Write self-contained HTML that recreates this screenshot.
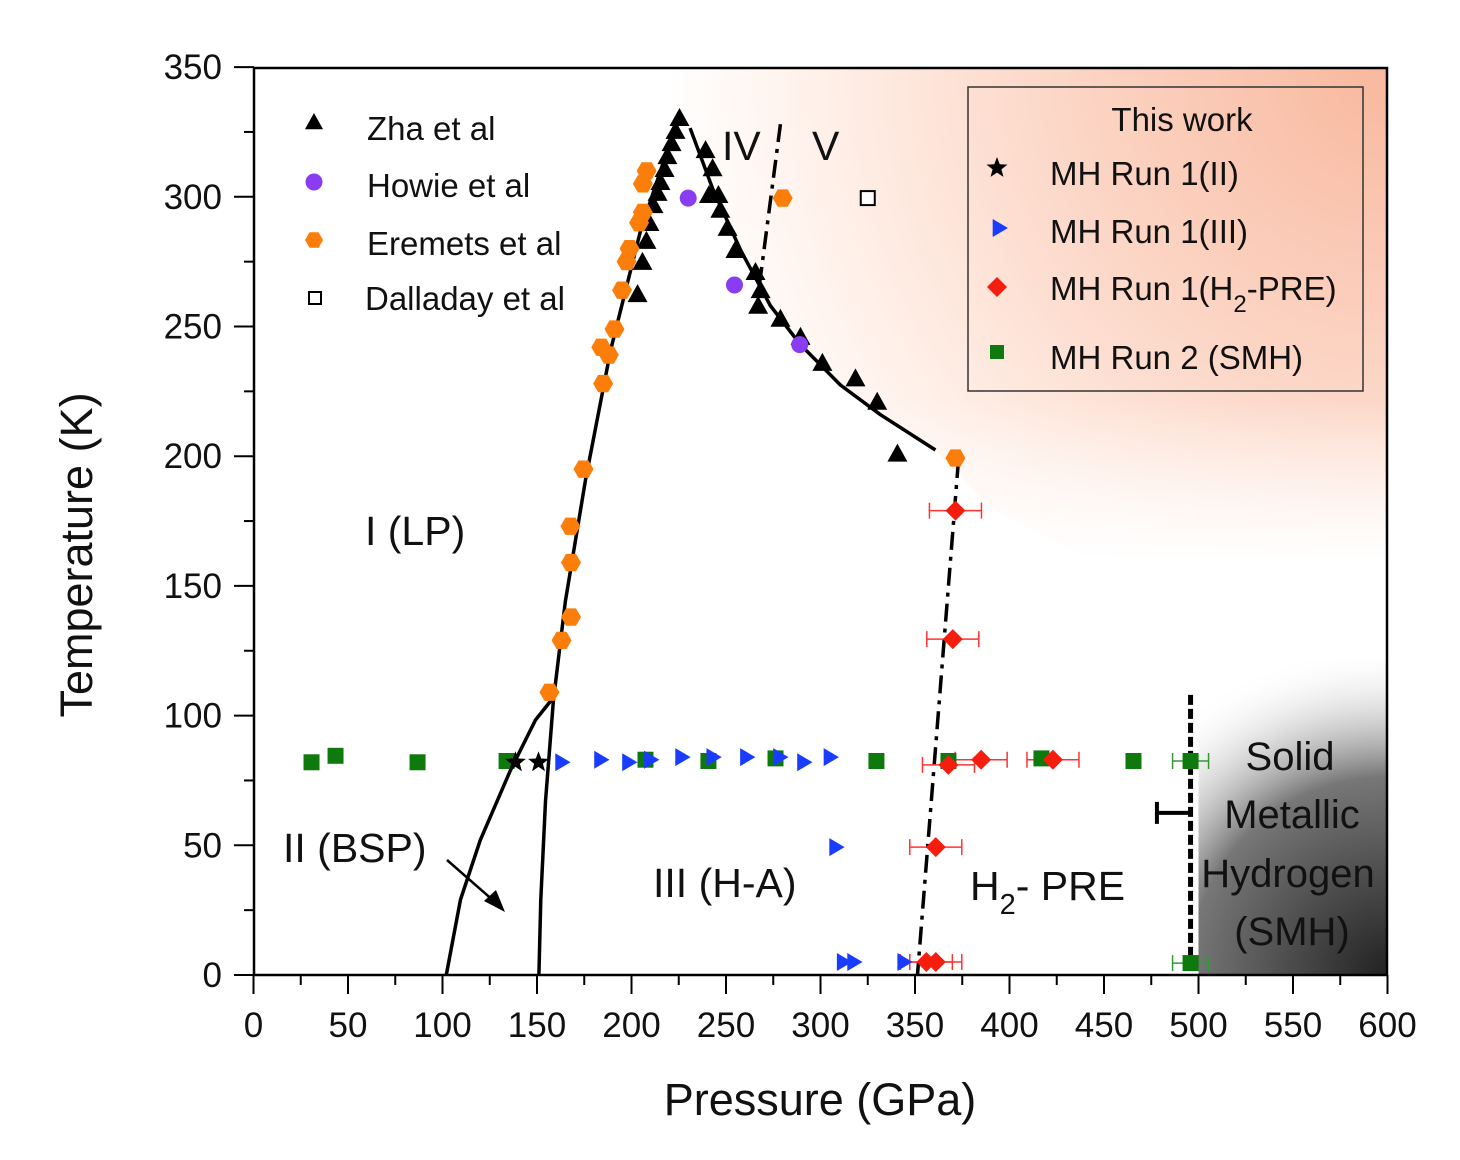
<!DOCTYPE html>
<html><head><meta charset="utf-8"><style>
body{margin:0;background:#fff;}
svg{display:block;font-family:"Liberation Sans",Arial,sans-serif;}
</style></head><body>
<svg id="chart" width="1460" height="1160" viewBox="0 0 1460 1160">
<defs>
<radialGradient id="orange" cx="1387" cy="67" r="720" gradientUnits="userSpaceOnUse">
<stop offset="0" stop-color="#f8b89e"/><stop offset="0.45" stop-color="#fcd6c6"/><stop offset="0.8" stop-color="#fff1ea"/><stop offset="1" stop-color="#ffffff"/>
</radialGradient>
<linearGradient id="fade" x1="0" y1="400" x2="0" y2="560" gradientUnits="userSpaceOnUse">
<stop offset="0" stop-color="#fff" stop-opacity="0"/><stop offset="1" stop-color="#fff" stop-opacity="1"/>
</linearGradient>
<radialGradient id="gray" cx="1387" cy="975" r="330" gradientUnits="userSpaceOnUse">
<stop offset="0" stop-color="#222"/><stop offset="0.6" stop-color="#777"/><stop offset="1" stop-color="#fff" stop-opacity="0"/>
</radialGradient>
<clipPath id="plotclip"><rect x="254" y="68" width="1133" height="907"/></clipPath>
</defs>
<g id="bg" clip-path="url(#plotclip)"></g>
<g id="curves"></g>
<g id="marks"></g>
<g id="axes"></g>
<g id="labels"></g>
</svg>
<script>
const NS='http://www.w3.org/2000/svg';
const xTicks=[0,50,100,150,200,250,300,350,400,450,500,550,600];
const yTicks=[0,50,100,150,200,250,300,350];
const zhaP=[225.4,223.3,221.2,219,217.5,215.3,213.8,211.6,209.5,207.9,205.8,203.2,239.2,242.9,241,246,247,250.8,255,265.6,268.3,267,278.8,289.4,301,318.5,330,340.7];
const zhaT=[330.4,325.4,320.7,315.7,310.7,305.7,301.5,296.8,289.9,283,274.9,262.5,318,311,300.7,300.7,295,288,279.5,271,264,258,253,246,236,230,221,201];
const howieP=[230,254.5,289];
const howieT=[299.5,266,243];
const eremP=[208,206,206,204,199,197.4,195,191,184,188,185,174.6,167.7,168,168,163,156.6,280,371.4];
const eremT=[310,305,294,290,280,275,264,249,242,239,228,195,173,159,138,129,109,299.5,199.3];
const dallP=[325];const dallT=[299.5];
const run1IIP=[138.6,150.8];const run1IIT=[82,82];
const run1IIIP=[163,183.6,198.4,210,226.5,243,260.8,278.3,291,305,308,312,317.5,344];
const run1IIIT=[82,83,82,83,84,84,84,84,82,84,49.3,5,5,5];
const preP=[371.4,370,385,423,367.7,361,356,361];
const preT=[179,129.5,83,83,81,49.3,5,5];
const smhP=[30.7,43.4,86.8,133.9,207.4,240.7,276.2,329.6,367.7,416.9,465.6,495.8,495.8];
const smhT=[82,84.5,82,82.5,83,82.5,83.5,82.5,82.5,83.5,82.5,82.5,4.6];
const leftCurveP=[151,152,154.5,158.7,165,175.7,189,204.8,225.4];
const leftCurveT=[0,29,67,106,144,191,241,287,332];
const rightCurveP=[231,243,257.7,273.5,289.4,310.6,331.7,360.8];
const rightCurveT=[326.5,303,279.5,258,243,227.4,216,202.4];
const bspP=[102,109.5,120,136,149.2,159.8];
const bspT=[0,29,52,79,98.3,108];
const ivvP=[278.8,267.5];const ivvT=[328,265];
const preLineP=[373,351.3];const preLineT=[198.5,0];

const X=p=>253.5+p*1.89, Y=t=>975-t*2.594;
function el(tag,attrs,parent){const e=document.createElementNS(NS,tag);for(const k in attrs)e.setAttribute(k,attrs[k]);parent.appendChild(e);return e;}
const bg=document.getElementById('bg'),curves=document.getElementById('curves'),marks=document.getElementById('marks'),axes=document.getElementById('axes'),labels=document.getElementById('labels');

let r=el('rect',{x:254,y:68,width:1133,height:600,fill:'url(#orange)'},bg);


let fd=el('rect',{x:254,y:400,width:1133,height:300,fill:'url(#fade)'},bg);


let pts=[];rightCurveP.forEach((p,i)=>pts.push([X(p),Y(rightCurveT[i])]));
let mask='M'+X(225.4)+','+Y(332)+' '+pts.map(q=>'L'+q[0]+','+q[1]).join(' ')+' L'+X(390)+','+Y(180)+' L'+X(600)+','+Y(100)+' L'+X(600)+','+Y(0)+' L'+X(0)+','+Y(0)+' L'+X(0)+','+Y(350)+' L'+X(200)+','+Y(350)+' Z';
let m=el('path',{d:mask,fill:'#fff'},bg);


let g=el('rect',{x:X(500),y:660,width:X(600)-X(500),height:315,fill:'url(#gray)'},bg);



function poly(P,T,name,dash,w){const d=P.map((p,i)=>(i?'L':'M')+X(p)+','+Y(T[i])).join(' ');const e=el('path',{d:d,fill:'none',stroke:'#000','stroke-width':w||3.5,'stroke-dasharray':dash||'none','stroke-linejoin':'round'},curves);

}
poly(leftCurveP,leftCurveT,'phase-i-iii-boundary');
poly(rightCurveP,rightCurveT,'phase-i-iv-boundary');
poly(bspP,bspT,'bsp-boundary');
poly(ivvP,ivvT,'iv-v-boundary','18,7,4,7');
poly(preLineP,preLineT,'h2-pre-boundary','18,7,4,7');
let smhl=el('line',{x1:X(495.8),y1:Y(108),x2:X(495.8),y2:975,stroke:'#000','stroke-width':5,'stroke-dasharray':'10,4'},curves);


let eb=el('path',{d:`M${X(478)},${Y(62.5)} L${X(495.8)},${Y(62.5)} M${X(478)},${Y(62.5)-11} L${X(478)},${Y(62.5)+11}`,stroke:'#000','stroke-width':4,fill:'none'},curves);


let ar=el('path',{d:'M447,860 L495,902',stroke:'#000','stroke-width':2.5,fill:'none'},curves);


let ah=el('path',{d:'M505,912 L484,901 L496,890 Z',fill:'#000'},curves);



function tri(x,y,s,c){return el('path',{d:`M${x},${y-s} L${x+s},${y+s*0.8} L${x-s},${y+s*0.8} Z`,fill:c},marks);}
function rtri(x,y,s,c){return el('path',{d:`M${x+s},${y} L${x-s*0.7},${y-s} L${x-s*0.7},${y+s} Z`,fill:c},marks);}
function hex(x,y,s,c){let d='';for(let k=0;k<6;k++){const a=Math.PI/3*k;d+=(k?'L':'M')+(x+s*Math.cos(a))+','+(y+s*Math.sin(a));}return el('path',{d:d+'Z',fill:c},marks);}
function diam(x,y,s,c){return el('path',{d:`M${x},${y-s} L${x+s},${y} L${x},${y+s} L${x-s},${y} Z`,fill:c},marks);}
function star(x,y,s,c){let d='';for(let k=0;k<10;k++){const a=-Math.PI/2+Math.PI/5*k;const rr=k%2?s*0.42:s;d+=(k?'L':'M')+(x+rr*Math.cos(a))+','+(y+rr*Math.sin(a));}return el('path',{d:d+'Z',fill:c},marks);}
function errbar(x,y,w,c){return el('path',{d:`M${x-w},${y} L${x+w},${y} M${x-w},${y-8} L${x-w},${y+8} M${x+w},${y-8} L${x+w},${y+8}`,stroke:c,'stroke-width':1.5,fill:'none'},marks);}

preP.forEach((p,i)=>{const e=errbar(X(p),Y(preT[i]),26,'#f33');

});
[11,12].forEach(i=>{const e=errbar(X(smhP[i]),Y(smhT[i]),18,'#393');

});
smhP.forEach((p,i)=>{const e=el('rect',{x:X(p)-8,y:Y(smhT[i])-8,width:16,height:16,fill:'#0e7a0e'},marks);

});
run1IIIP.forEach((p,i)=>{const e=rtri(X(p),Y(run1IIIT[i]),9,'#1a3cff');

});
preP.forEach((p,i)=>{const e=diam(X(p),Y(preT[i]),10,'#f51d0d');

});
run1IIP.forEach((p,i)=>{const e=star(X(p),Y(run1IIT[i]),11,'#000');

});
zhaP.forEach((p,i)=>{const e=tri(X(p),Y(zhaT[i]),10,'#000');

});
howieP.forEach((p,i)=>{const e=el('circle',{cx:X(p),cy:Y(howieT[i]),r:8.5,fill:'#8a3cf0'},marks);

});
eremP.forEach((p,i)=>{const e=hex(X(p),Y(eremT[i]),10,'#fb7d0a');

});
dallP.forEach((p,i)=>{const e=el('rect',{x:X(p)-7,y:Y(dallT[i])-7,width:14,height:14,fill:'#fff',stroke:'#000','stroke-width':2},marks);

});

let fr=el('rect',{x:254,y:68,width:1133,height:907,fill:'none',stroke:'#000','stroke-width':2.5},axes);


for(let v=0;v<=600;v+=25){const e=el('line',{x1:X(v),y1:975,x2:X(v),y2:v%50?985:994,stroke:'#000','stroke-width':2},axes);

}
for(let v=0;v<=350;v+=25){const e=el('line',{x1:254,y1:Y(v),x2:v%50?244:234,y2:Y(v),stroke:'#000','stroke-width':2},axes);

}
xTicks.forEach(v=>{const t=el('text',{x:X(v),y:1037,'font-size':35,'text-anchor':'middle',fill:'#111'},axes);t.textContent=v;

});
yTicks.forEach(v=>{const t=el('text',{x:222,y:Y(v)+12,'font-size':35,'text-anchor':'end',fill:'#111'},axes);t.textContent=v;

});

function txt(x,y,s,size,name,anchor){const t=el('text',{x:x,y:y,'font-size':size,'text-anchor':anchor||'start',fill:'#111'},labels);t.innerHTML=s;

return t;}
txt(820,1115,'Pressure (GPa)',45,'x-axis-title','middle');
const yt=txt(0,0,'Temperature (K)',45,'y-axis-title','middle');yt.setAttribute('transform','translate(92,555) rotate(-90)');
txt(365,545,'I (LP)',41,'label-phase-i');
txt(283,862,'II (BSP)',41,'label-phase-ii');
txt(653,897,'III (H-A)',41,'label-phase-iii');
txt(722,160,'IV',41,'label-phase-iv');
txt(812,160,'V',41,'label-phase-v');
txt(970,900,'H<tspan dy="14" font-size="29">2</tspan><tspan dy="-14">- PRE</tspan>',41,'label-h2-pre');
txt(1290,770,'Solid',40,'label-smh-1','middle');
txt(1292,828,'Metallic',40,'label-smh-2','middle');
txt(1288,887,'Hydrogen',40,'label-smh-3','middle');
txt(1292,945,'(SMH)',40,'label-smh-4','middle');

let lt=tri(314,122,9,'#000');
txt(367,140,'Zha et al',33,'legend-zha');
let lc=el('circle',{cx:314,cy:182,r:8.5,fill:'#8a3cf0'},labels);
txt(367,197,'Howie et al',33,'legend-howie');
let lh=hex(314,240,9,'#fb7d0a');
txt(367,255,'Eremets et al',33,'legend-eremets');
let ls=el('rect',{x:309,y:292,width:12,height:12,fill:'#fff',stroke:'#000','stroke-width':2},labels);
txt(365,310,'Dalladay et al',33,'legend-dalladay');

let lb=el('rect',{x:968,y:87,width:395,height:304,fill:'none',stroke:'#333','stroke-width':1.5},labels);


txt(1182,131,'This work',33,'legend-title','middle');
let s1=star(997,168,11,'#000');
txt(1050,185,'MH Run 1(II)',33,'legend-run1-ii');
let s2=rtri(999,228,9,'#1a3cff');
txt(1050,243,'MH Run 1(III)',33,'legend-run1-iii');
let s3=diam(997,287,10,'#f51d0d');
txt(1050,300,'MH Run 1(H<tspan dy="12" font-size="24">2</tspan><tspan dy="-12">-PRE)</tspan>',33,'legend-run1-pre');
let s4=el('rect',{x:990,y:345,width:14,height:14,fill:'#0e7a0e'},labels);
txt(1050,369,'MH Run 2 (SMH)',33,'legend-run2');
</script>
</body></html>
